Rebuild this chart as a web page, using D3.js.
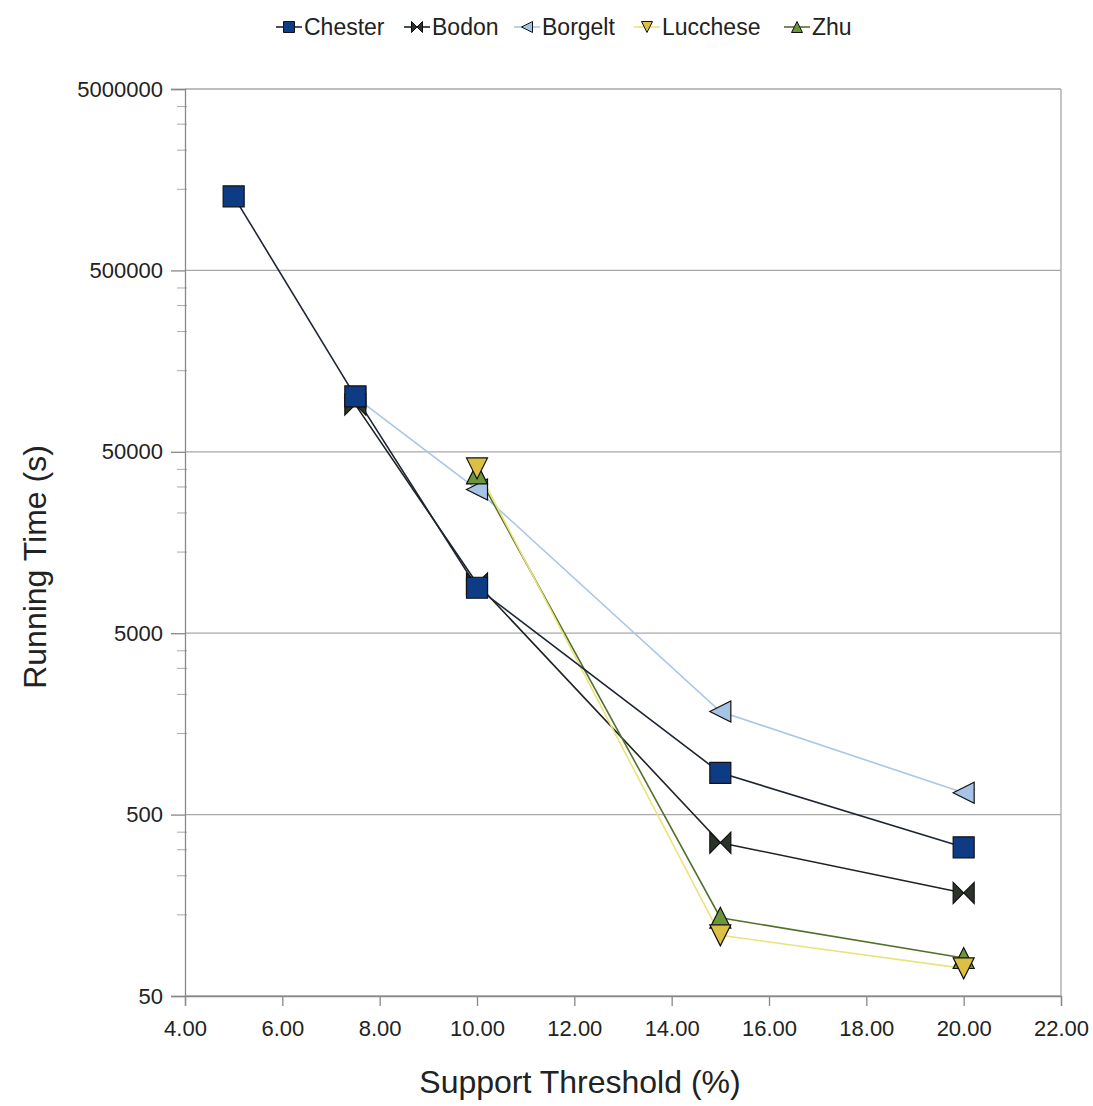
<!DOCTYPE html>
<html>
  <head>
    <meta charset="utf-8">
    <title>Running time vs support threshold</title>
    <style>
      body { margin: 0; background: #fff; }
      text { font-family: "Liberation Sans", Arial, sans-serif; fill: #222; }
    </style>
  </head>
  <body>
    <div id="chart"></div>
    <script src="https://cdn.jsdelivr.net/npm/d3@7"></script>
    <script>
      // data
      var thresholds = [5, 7.5, 10, 15, 20];
      var seriesNames = ["Chester", "Bodon", "Borgelt", "Lucchese", "Zhu"];
      var chester  = [1280000, 101000, 8900, 850, 330];
      var bodon    = [null, 91000, 9400, 350, 185];
      var borgelt  = [null, 100000, 31000, 1850, 660];
      var lucchese = [null, null, 40500, 108, 71];
      var zhu      = [null, null, 38000, 135, 81];
      var yTicks = [50, 500, 5000, 50000, 500000, 5000000];
      var yMinor = [4, 3.2, 2.3, 1.4];   // multiples of each decade
      var xTicks = [4, 6, 8, 10, 12, 14, 16, 18, 20, 22];

      var values = [chester, bodon, borgelt, lucchese, zhu];
      var lineColor = ["#1c2533", "#1e2222", "#a9c6e6", "#ebe37a", "#53702e"];
      var fillColor = ["#0e3c84", "#2b332b", "#a6c4e6", "#dcc046", "#6b963a"];
      var shapes = ["square", "bowtie", "left", "down", "up"];
      var drawOrder = [1, 2, 4, 3, 0];

      var W = 1093, H = 1106;
      var svg = d3.select("#chart").append("svg").attr("width", W).attr("height", H);

      var x = d3.scaleLinear().domain([4, 22]).range([185, 1061]);
      var y = d3.scaleLog().domain([50, 5000000]).range([996, 89]);

      // grid lines
      svg.selectAll(".grid").data(yTicks).enter().append("line")
        .attr("x1", x(4)).attr("x2", x(22))
        .attr("y1", function(d) { return y(d); }).attr("y2", function(d) { return y(d); })
        .attr("stroke", "#a8a8a8").attr("stroke-width", 1.3);
      svg.append("line").attr("x1", x(22)).attr("x2", x(22)).attr("y1", y(5000000)).attr("y2", y(50))
        .attr("stroke", "#a8a8a8").attr("stroke-width", 1.3);

      // minor y ticks
      var minorVals = [];
      yTicks.slice(0, -1).forEach(function(t) {
        yMinor.forEach(function(m) { minorVals.push(t / 5 * m * 10); });
      });
      svg.selectAll(".minor").data(minorVals).enter().append("line")
        .attr("x1", x(4) - 8).attr("x2", x(4) + 2)
        .attr("y1", function(d) { return y(d); }).attr("y2", function(d) { return y(d); })
        .attr("stroke", "#aaa").attr("stroke-width", 1);

      // axes
      var yAxis = d3.axisLeft(y).tickValues(yTicks).tickFormat(d3.format("d")).tickSize(14).tickPadding(8);
      var gy = svg.append("g").attr("transform", "translate(" + x(4) + ",0)").call(yAxis);
      gy.selectAll("text").style("font-size", "22px");
      gy.selectAll("line, path").attr("stroke", "#888").attr("stroke-width", 1.3);

      var xAxis = d3.axisBottom(x).tickValues(xTicks).tickFormat(d3.format(".2f")).tickSize(10).tickPadding(14);
      var gx = svg.append("g").attr("transform", "translate(0," + y(50) + ")").call(xAxis);
      gx.selectAll("text").style("font-size", "22px");
      gx.selectAll("line, path").attr("stroke", "#888").attr("stroke-width", 1.3);

      // axis titles
      svg.append("text").attr("x", 580).attr("y", 1093).attr("text-anchor", "middle")
        .style("font-size", "32px").text("Support Threshold (%)");
      svg.append("text").attr("transform", "translate(46,567) rotate(-90)").attr("text-anchor", "middle")
        .style("font-size", "32px").text("Running Time (s)");

      function shapePath(kind, s) {
        var h = s / 2;
        if (kind === "square") return "M" + -h + "," + -h + "H" + h + "V" + h + "H" + -h + "Z";
        if (kind === "bowtie") return "M" + -h + "," + -h + "L0,0L" + h + "," + -h + "V" + h + "L0,0L" + -h + "," + h + "Z";
        if (kind === "left") return "M" + -h + ",0L" + h + "," + -h + "V" + h + "Z";
        if (kind === "down") return "M" + -h + "," + -h + "H" + h + "L0," + h + "Z";
        return "M" + -h + "," + h + "H" + h + "L0," + -h + "Z";
      }

      var line = d3.line()
        .defined(function(d) { return d.v != null; })
        .x(function(d) { return x(d.t); })
        .y(function(d) { return y(d.v); });

      var lineLayer = svg.append("g"), markLayer = svg.append("g");
      drawOrder.forEach(function(i) {
        var pts = thresholds.map(function(t, j) { return { t: t, v: values[i][j] }; });
        lineLayer.append("path").datum(pts).attr("d", line)
          .attr("fill", "none").attr("stroke", lineColor[i]).attr("stroke-width", 1.6);
      });
      drawOrder.forEach(function(i) {
        var pts = thresholds.map(function(t, j) { return { t: t, v: values[i][j] }; });
        markLayer.append("g").selectAll("path").data(pts.filter(function(d) { return d.v != null; })).enter()
          .append("path")
          .attr("transform", function(d) { return "translate(" + x(d.t) + "," + y(d.v) + ")"; })
          .attr("d", shapePath(shapes[i], 21))
          .attr("fill", fillColor[i]).attr("stroke", "#111").attr("stroke-width", 1.2);
      });

      // legend
      var legendX = [304, 432, 542, 662, 812];
      var leg = svg.append("g");
      seriesNames.forEach(function(name, i) {
        var lx = legendX[i], ly = 27;
        leg.append("line").attr("x1", lx - 28).attr("x2", lx - 2).attr("y1", ly).attr("y2", ly)
          .attr("stroke", lineColor[i]).attr("stroke-width", 1.6);
        leg.append("path").attr("transform", "translate(" + (lx - 15) + "," + ly + ")")
          .attr("d", shapePath(shapes[i], 11))
          .attr("fill", fillColor[i]).attr("stroke", "#111").attr("stroke-width", 1);
        leg.append("text").attr("x", lx).attr("y", ly + 8).style("font-size", "23px").text(name);
      });
    </script>
  </body>
</html>
